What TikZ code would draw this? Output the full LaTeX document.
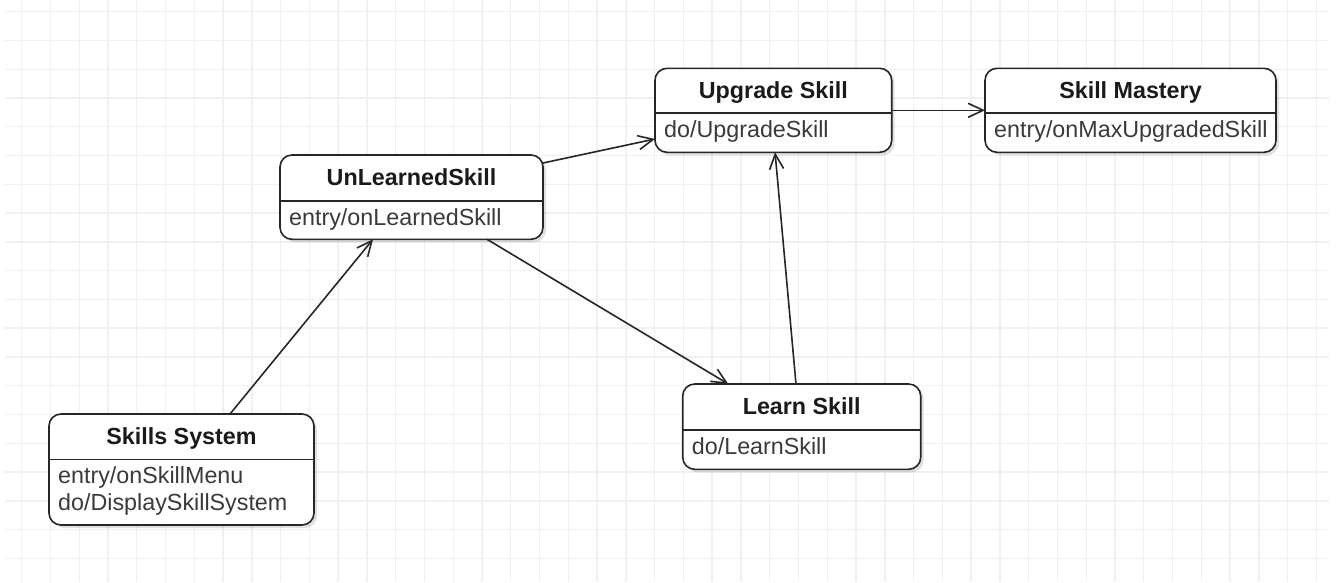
\documentclass[tikz,border=0pt]{standalone}
\usepackage{fontspec}
\setmainfont{Liberation Sans}
\usetikzlibrary{arrows.meta}
\definecolor{gridc}{HTML}{F0F0F0}
\definecolor{edgec}{HTML}{262626}
\definecolor{titlec}{HTML}{1A1A1A}
\definecolor{bodyc}{HTML}{3A3A3A}
\tikzset{
  gridline/.style={draw=gridc, line width=1.4pt},
  statebox/.style={draw=edgec, fill=white, line width=1.6pt, rounded corners=12pt, inner sep=0pt, outer sep=0pt},
  shadowbox/.style={fill=black, opacity=0.12, rounded corners=12pt},
  divider/.style={draw=edgec, line width=1.6pt},
  titletext/.style={inner sep=0pt, text=titlec, font=\fontsize{23.3}{27}\selectfont\bfseries},
  bodytext/.style={inner sep=0pt, text=bodyc, font=\fontsize{23.3}{27}\selectfont},
  trans/.style={draw=edgec, line width=1.6pt, -{Straight Barb[length=15pt,width=14pt,line width=1.6pt]}},
}
% name, x1, y1, x2, y2, ydiv, title, body
\newcommand{\umlstate}[8]{%
  \fill[shadowbox] ({#2+3},{#3+3}) rectangle ({#4+3},{#5+3});
  \node[statebox, minimum width={#4-#2}, minimum height={#5-#3}] (#1) at ({(#2+#4)/2},{(#3+#5)/2}) {};
  \draw[divider] (#1.west |- 0,#6) -- (#1.east |- 0,#6);
  \node[titletext, anchor=base] (#1-title) at ({(#2+#4)/2},{#3+30}) {#7};
  \node[bodytext, anchor=base west] (#1-body) at ({#2+9},{#6+24.5}) {#8};
}
\begin{document}
\begin{tikzpicture}[x=1pt, y=-1pt]
\useasboundingbox (0,0) rectangle (1336,582);
\fill[white] (0,0) rectangle (1336,582);
% grid
\foreach \k in {0,...,45} \draw[gridline] ({21.7+\k*28.77},0) -- ({21.7+\k*28.77},582);
\foreach \k in {0,...,19} \draw[gridline] (5,{11.7+\k*28.77}) -- (1329,{11.7+\k*28.77});
% states
\umlstate{ul}{280}{155}{543}{239.3}{200.7}{UnLearnedSkill}{entry/onLearnedSkill}
\umlstate{up}{655}{68.3}{891.7}{152.3}{112.7}{Upgrade Skill}{do/UpgradeSkill}
\umlstate{sm}{985}{68.3}{1276}{152.3}{112.7}{Skill Mastery}{entry/onMaxUpgradedSkill}
\umlstate{ls}{682.7}{384}{920.7}{469.3}{430}{Learn Skill}{do/LearnSkill}
\umlstate{ss}{49}{414}{314}{525}{459.3}{Skills System}{entry/onSkillMenu}
\node[bodytext, anchor=base west] (ss-body2) at (58,510.5) {do/DisplaySkillSystem};
% transitions
\draw[trans] ([xshift=48.5pt]ss.north) -- ([xshift=-38.5pt]ul.south);
\draw[trans] ([yshift=-8pt]ul.north east) -- ([yshift=-28.7pt]up.west);
\draw[trans] ([xshift=75.5pt]ul.south) -- ([xshift=-73.4pt]ls.north);
\draw[trans] ([xshift=-5.7pt]ls.north) -- ([xshift=1.7pt]up.south);
\draw[trans] (up.east) -- (sm.west);
\end{tikzpicture}
\end{document}
